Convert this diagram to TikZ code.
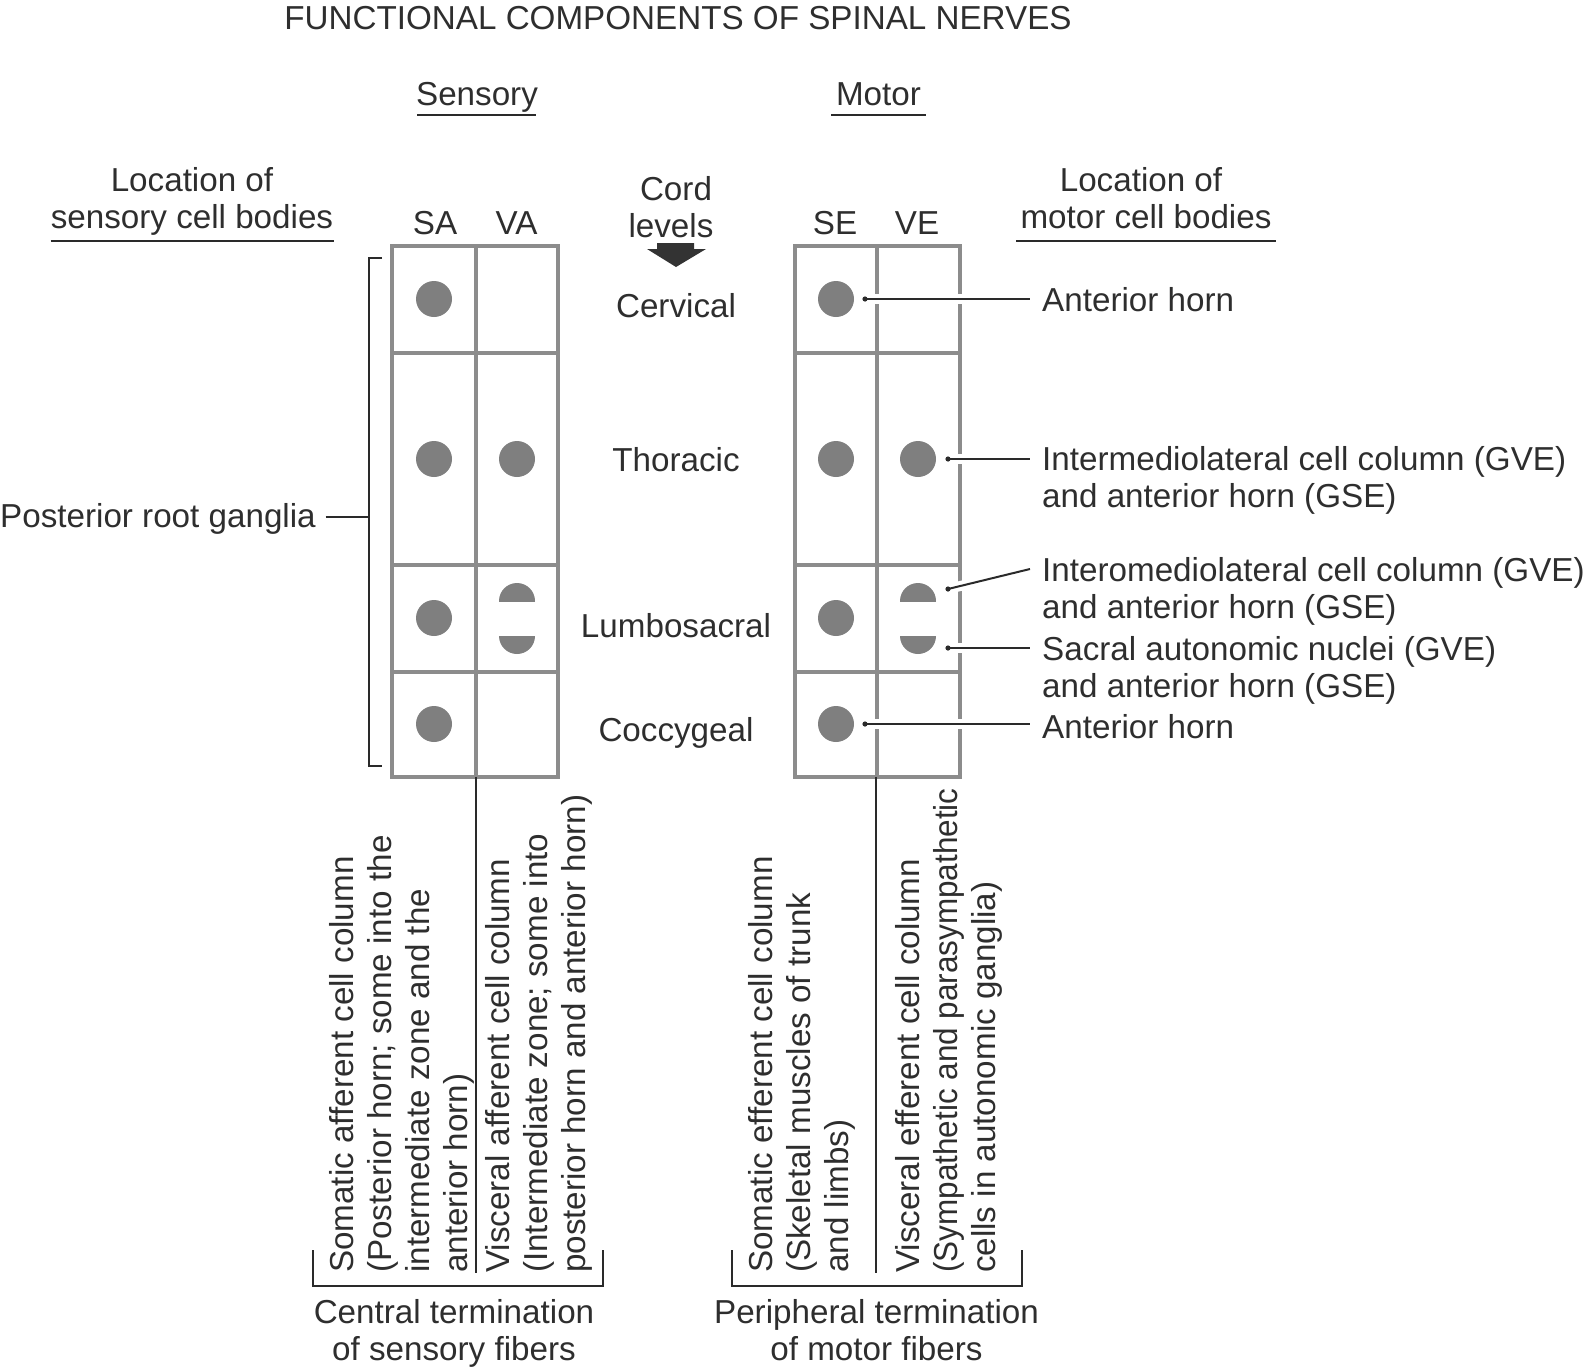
\documentclass[tikz,border=0pt]{standalone}
\usepackage{fontspec}
\setmainfont{Liberation Sans}
\definecolor{txtc}{HTML}{2E2E2E}
\definecolor{linec}{HTML}{2A2A2A}
\definecolor{gridc}{HTML}{8C8C8C}
\definecolor{blobc}{HTML}{7F7F7F}
\definecolor{arrowc}{HTML}{333333}
\begin{document}
\begin{tikzpicture}[x=1pt,y=-1pt,
  txt/.style={font=\fontsize{33.2}{37.5}\selectfont, text=txtc, inner sep=0pt},
  lbl/.style={txt, anchor=base},
  lbll/.style={txt, anchor=base west},
  rot/.style={txt, rotate=90, anchor=base west},
  cellgrid/.style={draw=gridc, line width=4pt},
  ruleline/.style={draw=linec, line width=2pt},
  leaderline/.style={draw=linec, line width=2pt, preaction={draw=white, line width=10pt}},
  blob/.style={fill=blobc},
]
\useasboundingbox (0,0) rectangle (1585,1371);

% ---------- headings ----------
\node[lbl] (title) at (678,29.5) {FUNCTIONAL COMPONENTS OF SPINAL NERVES};
\node[lbl] (sens) at (477,105) {Sensory};
\node[lbl] (mot) at (878.5,105) {Motor};
\draw[ruleline] (417,115) -- (536,115);
\draw[ruleline] (831,115) -- (926,115);

\node[lbl] (loc1a) at (192,191) {Location of};
\node[lbl] (loc1b) at (192,228.5) {sensory cell bodies};
\draw[ruleline] (50.5,240.5) -- (333.5,240.5);
\node[lbl] (loc2a) at (1141,191) {Location of};
\node[lbl] (loc2b) at (1146,228.5) {motor cell bodies};
\draw[ruleline] (1016,240.5) -- (1276,240.5);

\node[lbl] (sa) at (435,234.5) {SA};
\node[lbl] (va) at (516.5,234.5) {VA};
\node[lbl] (se) at (835,234.5) {SE};
\node[lbl] (ve) at (917,234.5) {VE};

\node[lbl] (cord) at (676,200) {Cord};
\node[lbl] (levels) at (671,237) {levels};
\fill[arrowc] (657,243) -- (694,243) -- (694,249) -- (706,249) -- (676,267) -- (647,249) -- (657,249) -- cycle;

\node[lbl] (cerv) at (676,317.5) {Cervical};
\node[lbl] (thor) at (676,471) {Thoracic};
\node[lbl] (lumb) at (676,637) {Lumbosacral};
\node[lbl] (cocc) at (676,741) {Coccygeal};

% ---------- grids ----------
\foreach \xl/\xm/\xr in {392/476/558, 795/877/960}{
  \draw[cellgrid] (\xl,246) rectangle (\xr,777);
  \draw[cellgrid] (\xm,246) -- (\xm,777);
  \foreach \yy in {353,565,672} \draw[cellgrid] (\xl,\yy) -- (\xr,\yy);
}

% full circles
\foreach \cx/\cy in {434/299, 434/459, 434/618, 434/724, 517/459,
                     836/299, 836/459, 836/618, 836/724, 918/459}
  \fill[blob] (\cx,\cy) circle[radius=18];
% half discs
\foreach \cx in {517,918}{
  \begin{scope}
    \clip (\cx-20,578) rectangle (\cx+20,601);
    \fill[blob] (\cx,601) circle[radius=18];
  \end{scope}
  \begin{scope}
    \clip (\cx-20,636) rectangle (\cx+20,659);
    \fill[blob] (\cx,636) circle[radius=18];
  \end{scope}
}

% ---------- posterior root ganglia ----------
\node[lbll] (prg) at (0,527.5) {Posterior root ganglia};
\coordinate (prgL) at (325.5,517);
\coordinate (brk) at (369,517);
\draw[ruleline] (382,258) -- (369,258) -- (369,766) -- (382,766);
\draw[ruleline] (prgL) -- (brk);

% ---------- motor cell body labels ----------
\node[lbll] (ah1) at (1042,311.5) {Anterior horn};
\node[lbll] (iml1) at (1042,470) {Intermediolateral cell column (GVE)};
\node[lbll] (iml1b) at (1042,507.5) {and anterior horn (GSE)};
\node[lbll] (iml2) at (1042,581) {Interomediolateral cell column (GVE)};
\node[lbll] (iml2b) at (1042,618.5) {and anterior horn (GSE)};
\node[lbll] (sac) at (1042,660) {Sacral autonomic nuclei (GVE)};
\node[lbll] (sacb) at (1042,697.5) {and anterior horn (GSE)};
\node[lbll] (ah2) at (1042,738) {Anterior horn};

\coordinate (d1) at (865,299);  \coordinate (e1) at (1030,299);
\coordinate (d2) at (948,459);  \coordinate (e2) at (1030,459);
\coordinate (d3) at (948,589);  \coordinate (e3) at (1030,569);
\coordinate (d4) at (948,648);  \coordinate (e4) at (1030,648);
\coordinate (d5) at (865,724);  \coordinate (e5) at (1030,724);
\foreach \i in {1,...,5}{
  \draw[leaderline] (d\i) -- (e\i);
  \fill[linec] (d\i) circle[radius=2.6];
}

% ---------- termination columns ----------
\coordinate (lt0) at (476,777); \coordinate (lt1) at (476,1273);
\coordinate (rt0) at (876,777); \coordinate (rt1) at (876,1273);
\draw[ruleline] (lt0) -- (lt1);
\draw[ruleline] (rt0) -- (rt1);

\node[rot] (l1) at (353.5,1273) {Somatic afferent cell column};
\node[rot] (l2) at (391.5,1273) {(Posterior horn; some into the};
\node[rot] (l3) at (429.5,1273) {intermediate zone and the};
\node[rot] (l4) at (467.5,1273) {anterior horn)};
\node[rot] (l5) at (509,1273) {Visceral afferent cell column};
\node[rot] (l6) at (547,1273) {(Intermediate zone; some into};
\node[rot] (l7) at (585,1273) {posterior horn and anterior horn)};

\node[rot] (r1) at (772,1273) {Somatic efferent cell column};
\node[rot] (r2) at (810,1273) {(Skeletal muscles of trunk};
\node[rot] (r3) at (848,1273) {and limbs)};
\node[rot] (r4) at (919,1273) {Visceral efferent cell column};
\node[rot] (r5) at (957,1273) {\scalebox{0.948}[1]{(Sympathetic and parasympathetic}};
\node[rot] (r6) at (995,1273) {cells in autonomic ganglia)};

\draw[ruleline] (313,1250) -- (313,1286) -- (603,1286) -- (603,1250);
\draw[ruleline] (732,1250) -- (732,1286) -- (1022,1286) -- (1022,1250);

\node[lbl] (ct1) at (454,1323) {Central termination};
\node[lbl] (ct2) at (454,1360) {of sensory fibers};
\node[lbl] (pt1) at (876.5,1323) {Peripheral termination};
\node[lbl] (pt2) at (876.5,1360) {of motor fibers};
\end{tikzpicture}
\end{document}
